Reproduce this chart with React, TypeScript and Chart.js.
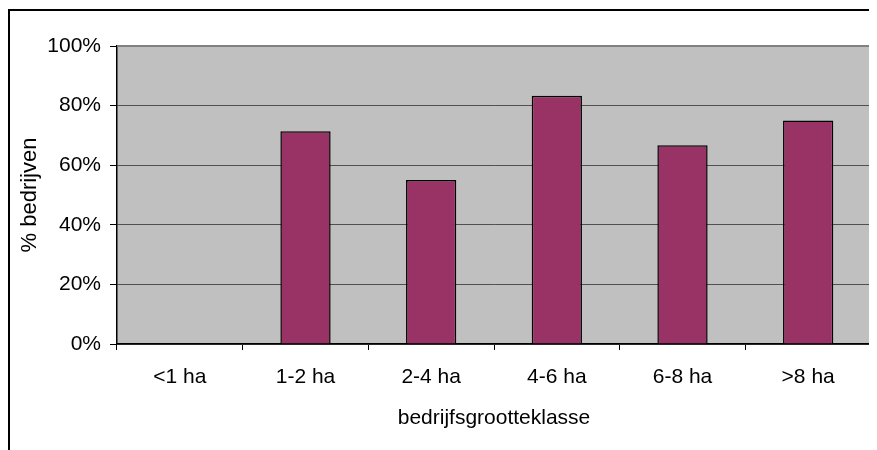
import React, { useEffect, useRef } from "react";
import { Chart, registerables } from "chart.js";

Chart.register(...registerables);

const categories = ["<1 ha", "1-2 ha", "2-4 ha", "4-6 ha", "6-8 ha", ">8 ha"];
const values = [0, 71.4, 55.0, 83.3, 66.7, 75.0];
const yTicks = [0, 20, 40, 60, 80, 100];
const yTitle = "% bedrijven";
const xTitle = "bedrijfsgrootteklasse";

const FONT = "'Liberation Sans', Arial, sans-serif";

const decor = {
  id: "decor",
  beforeDraw(chart: any) {
    const { ctx, chartArea } = chart;
    ctx.save();
    ctx.fillStyle = "#ffffff";
    ctx.fillRect(0, 0, chart.width, chart.height);
    ctx.fillStyle = "#C0C0C0";
    ctx.fillRect(chartArea.left, chartArea.top, chartArea.right - chartArea.left, chartArea.bottom - chartArea.top);
    // outer border (left and top)
    ctx.fillStyle = "#000000";
    ctx.fillRect(0, 1, 2, chart.height);
    ctx.fillRect(0, 1, chart.width, 2);
    ctx.restore();
  },
  afterDatasetsDraw(chart: any) {
    const { ctx, chartArea } = chart;
    ctx.save();
    ctx.strokeStyle = "#808080";
    ctx.lineWidth = 2;
    ctx.beginPath();
    ctx.moveTo(chartArea.left, chartArea.top);
    ctx.lineTo(chartArea.right, chartArea.top);
    ctx.lineTo(chartArea.right, chartArea.bottom);
    ctx.stroke();
    ctx.restore();
  },
};

export default function App() {
  const ref = useRef<HTMLCanvasElement>(null);
  useEffect(() => {
    if (!ref.current) return;
    const chart = new Chart(ref.current, {
      type: "bar",
      data: {
        labels: categories,
        datasets: [
          {
            data: values,
            backgroundColor: "#993366",
            borderColor: "#000000",
            borderWidth: 1.5,
            barPercentage: 0.4,
            categoryPercentage: 1,
          },
        ],
      },
      plugins: [decor],
      options: {
        responsive: false,
        animation: false,
        devicePixelRatio: 1,
        layout: { padding: { left: 0, top: 38, right: 6, bottom: 0 } },
        plugins: { legend: { display: false }, tooltip: { enabled: false } },
        scales: {
          x: {
            grid: {
              offset: true,
              drawOnChartArea: false,
              tickLength: 6,
              color: "#000000",
            },
            border: { color: "#000000", width: 1.5 },
            ticks: { color: "#000000", font: { family: FONT, size: 21 }, padding: 15, maxRotation: 0 },
            title: {
              display: true,
              text: xTitle,
              color: "#000000",
              font: { family: FONT, size: 21 },
              padding: { top: 8, bottom: 19 },
            },
            afterFit(scale: any) {
              scale.height = 442 - 336;
            },
          },
          y: {
            min: 0,
            max: 100,
            afterBuildTicks(scale: any) {
              scale.ticks = yTicks.map((v) => ({ value: v }));
            },
            grid: {
              color: "#505050",
              lineWidth: 1,
              tickLength: 7,
              tickColor: "#000000",
            },
            border: { color: "#000000", width: 1.5 },
            ticks: {
              color: "#000000",
              font: { family: FONT, size: 21 },
              padding: 9,
              callback: (v: any) => v + "%",
            },
            title: {
              display: true,
              text: yTitle,
              color: "#000000",
              font: { family: FONT, size: 22 },
              padding: { top: 9, bottom: 0 },
            },
            afterFit(scale: any) {
              scale.width = 109;
            },
          },
        },
      },
    });
    return () => chart.destroy();
  }, []);
  return <canvas ref={ref} width={869} height={442} style={{ display: "block", width: 869, height: 442 }} />;
}
